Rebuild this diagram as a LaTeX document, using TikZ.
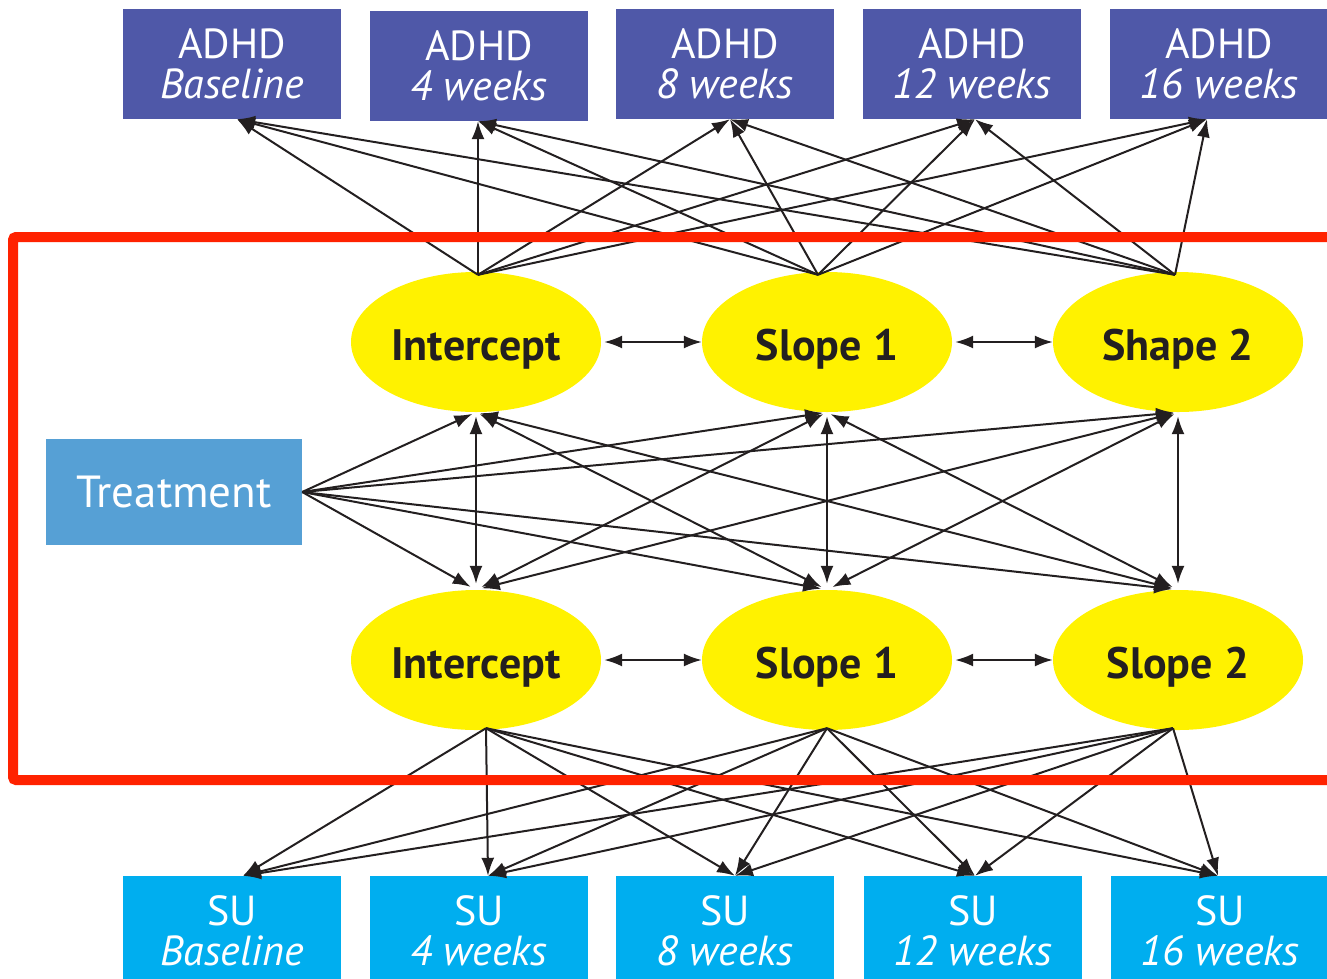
\documentclass[tikz,border=0pt]{standalone}
\usepackage{fontspec}
\setmainfont{PT Sans}
\usetikzlibrary{arrows.meta,shapes.geometric}

\definecolor{adhdblue}{HTML}{4F58A8}
\definecolor{sucyan}{HTML}{00AEEF}
\definecolor{treatblue}{HTML}{56A0D5}
\definecolor{latentyellow}{HTML}{FFF200}
\definecolor{framered}{HTML}{FF2200}
\definecolor{inkdark}{HTML}{231F20}

\begin{document}
\begin{tikzpicture}[x=1pt,y=-1pt,
  obsbox/.style={text=white, minimum width=218pt, minimum height=110pt,
    inner sep=0pt, align=center, font=\fontsize{42}{40}\selectfont},
  adhdbox/.style={obsbox, fill=adhdblue},
  subox/.style={obsbox, fill=sucyan},
  treatbox/.style={fill=treatblue, text=white, minimum width=256pt,
    minimum height=106pt, inner sep=0pt, font=\fontsize{45}{46}\selectfont},
  latent/.style={ellipse, fill=latentyellow, minimum width=250pt,
    minimum height=140pt, inner sep=0pt, text=inkdark,
    text height=37pt, text depth=0pt,
    font=\fontsize{44}{46}\selectfont\bfseries},
  tip/.tip={Latex[length=18pt,width=13pt]},
  conn/.style={draw=inkdark, line width=2pt, -tip},
  cov/.style={draw=inkdark, line width=2pt, tip-tip},
  regionframe/.style={draw=framered, line width=10pt, rounded corners=3pt}
]
\useasboundingbox (0,0) rectangle (1327,978);
\clip (0,0) rectangle (1327,978);

% ADHD measurements
\node[adhdbox] (a0) at (232,64)  {ADHD\\\textit{Baseline}};
\node[adhdbox] (a1) at (479,66)  {ADHD\\\textit{4 weeks}};
\node[adhdbox] (a2) at (725,64)  {ADHD\\\textit{8 weeks}};
\node[adhdbox] (a3) at (972,64)  {ADHD\\\textit{12 weeks}};
\node[adhdbox] (a4) at (1219,64) {ADHD\\\textit{16 weeks}};

% SU measurements
\node[subox] (b0) at (232,931)  {SU\\\textit{Baseline}};
\node[subox] (b1) at (479,931)  {SU\\\textit{4 weeks}};
\node[subox] (b2) at (725,931)  {SU\\\textit{8 weeks}};
\node[subox] (b3) at (973,931)  {SU\\\textit{12 weeks}};
\node[subox] (b4) at (1220,931) {SU\\\textit{16 weeks}};

% growth factors
\node[latent] (it) at (476,342) {Intercept};
\node[latent] (st) at (827,342) {Slope 1};
\node[latent] (ht) at (1178,342) {Shape 2};
\node[latent] (ib) at (476,660) {Intercept};
\node[latent] (sb) at (827,660) {Slope 1};
\node[latent] (hb) at (1178,660) {Slope 2};

% covariate
\node[treatbox] (tr) at (174,492) {Treatment};

% loadings on ADHD
\foreach \l/\lx in {it/2, st/-9, ht/-3}
  \foreach \b/\dx in {a0/5, a1/-1, a2/5, a3/3, a4/-12}
    \draw[conn] ([xshift=\lx pt, yshift=-3pt]\l.north) -- ([xshift=\dx pt]\b.south);

% loadings on SU
\foreach \l/\lx in {ib/10, sb/0, hb/-5}
  \foreach \b/\dx in {b0/11, b1/9, b2/10, b3/2, b4/-2}
    \draw[conn] ([xshift=\lx pt, yshift=2pt]\l.south) -- ([xshift=\dx pt]\b.north);

% treatment effects
\foreach \l in {it,st,ht}
  \draw[conn, shorten >=4pt] (tr.east) -- (\l.south);
\foreach \l in {ib,sb,hb}
  \draw[conn, shorten >=6pt] (tr.east) -- (\l.north);

% covariances between the two processes
\foreach \u in {it,st,ht}
  \foreach \d in {ib,sb,hb}
    \draw[cov, shorten <=4pt, shorten >=6pt] (\u.south) -- (\d.north);

% covariances within each process
\draw[cov, shorten <=3pt] (it.east) -- (st.west);
\draw[cov, shorten <=3pt] (st.east) -- (ht.west);
\draw[cov, shorten <=3pt] (ib.east) -- (sb.west);
\draw[cov, shorten <=3pt] (sb.east) -- (hb.west);

% highlighted region
\draw[regionframe] (13,237) rectangle (1345,780);
\end{tikzpicture}
\end{document}
